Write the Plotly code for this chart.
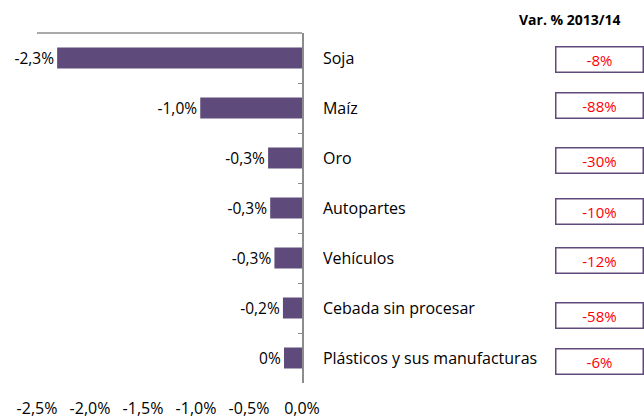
import plotly.graph_objects as go

categories = ["Soja", "Maíz", "Oro", "Autopartes", "Vehículos", "Cebada sin procesar", "Plásticos y sus manufacturas"]
values = [-2.31, -0.96, -0.32, -0.30, -0.26, -0.18, -0.17]
value_labels = ["-2,3%", "-1,0%", "-0,3%", "-0,3%", "-0,3%", "-0,2%", "0%"]
var_labels = ["-8%", "-88%", "-30%", "-10%", "-12%", "-58%", "-6%"]
var_title = "Var. % 2013/14"
x_tickvals = [-2.5, -2.0, -1.5, -1.0, -0.5, 0.0]
x_ticktext = ["-2,5%", "-2,0%", "-1,5%", "-1,0%", "-0,5%", "0,0%"]

FONT = "Open Sans"
BAR = "#5f4b7b"
GRAY = "#8c8c8c"

W, H = 644, 419
ml, mr, mt, mb = 37, 342, 33, 36
pw = W - ml - mr

fig = go.Figure(go.Bar(
    y=categories, x=values, orientation="h",
    marker=dict(color=BAR, line=dict(width=0)),
    width=0.42,
    text=value_labels, textposition="outside", constraintext="none",
    textfont=dict(family=FONT, size=15.5, color="#000000"),
    cliponaxis=False, hoverinfo="skip",
))

def px_to_paper(px):
    return (px - ml) / pw

box_yshift = [-1, 2.5, -2.5, -3, -2, -7, -3]
for cat, lab, ys in zip(categories, var_labels, box_yshift):
    fig.add_annotation(
        x=px_to_paper(555), xref="paper", xanchor="left",
        y=cat, yref="y", yanchor="middle", yshift=ys,
        text=lab, showarrow=False,
        font=dict(family=FONT, size=15, color="#ff0000"),
        width=86, height=24, align="center", valign="middle",
        bordercolor="#604a7b", borderwidth=1.5, borderpad=0,
        bgcolor="#ffffff",
    )

fig.add_annotation(
    x=px_to_paper(570), xref="paper", xanchor="center",
    y=1, yref="paper", yanchor="bottom", yshift=2,
    text="<b>" + var_title + "</b>", showarrow=False,
    font=dict(family=FONT, size=14, color="#000000"),
)

fig.add_shape(type="line", xref="paper", yref="paper", x0=0, x1=1, y0=1, y1=1,
              line=dict(color=GRAY, width=1.5))

fig.update_layout(
    width=W, height=H,
    margin=dict(l=ml, r=mr, t=mt, b=mb, pad=0, autoexpand=False),
    paper_bgcolor="#ffffff", plot_bgcolor="#ffffff",
    showlegend=False,
    font=dict(family=FONT, size=16, color="#000000"),
    xaxis=dict(
        range=[-2.5, 0], tickvals=x_tickvals, ticktext=x_ticktext,
        showgrid=False, zeroline=False, showline=False,
        ticks="outside", ticklen=11, tickcolor="rgba(0,0,0,0)",
        tickfont=dict(family=FONT, size=16, color="#000000"),
        automargin=False, fixedrange=True,
    ),
    yaxis=dict(
        type="category", autorange="reversed", side="right",
        showgrid=False, zeroline=False,
        showline=True, linecolor=GRAY, linewidth=1.5,
        ticks="inside", ticklen=4, tickcolor=GRAY, tickson="boundaries",
        ticklabelstandoff=16,
        tickfont=dict(family=FONT, size=16, color="#000000"),
        automargin=False, fixedrange=True,
    ),
)

fig.write_html(
    "out.html",
    config={"displayModeBar": False},
    post_script="document.body.style.margin='0';document.body.style.overflow='hidden';",
)
